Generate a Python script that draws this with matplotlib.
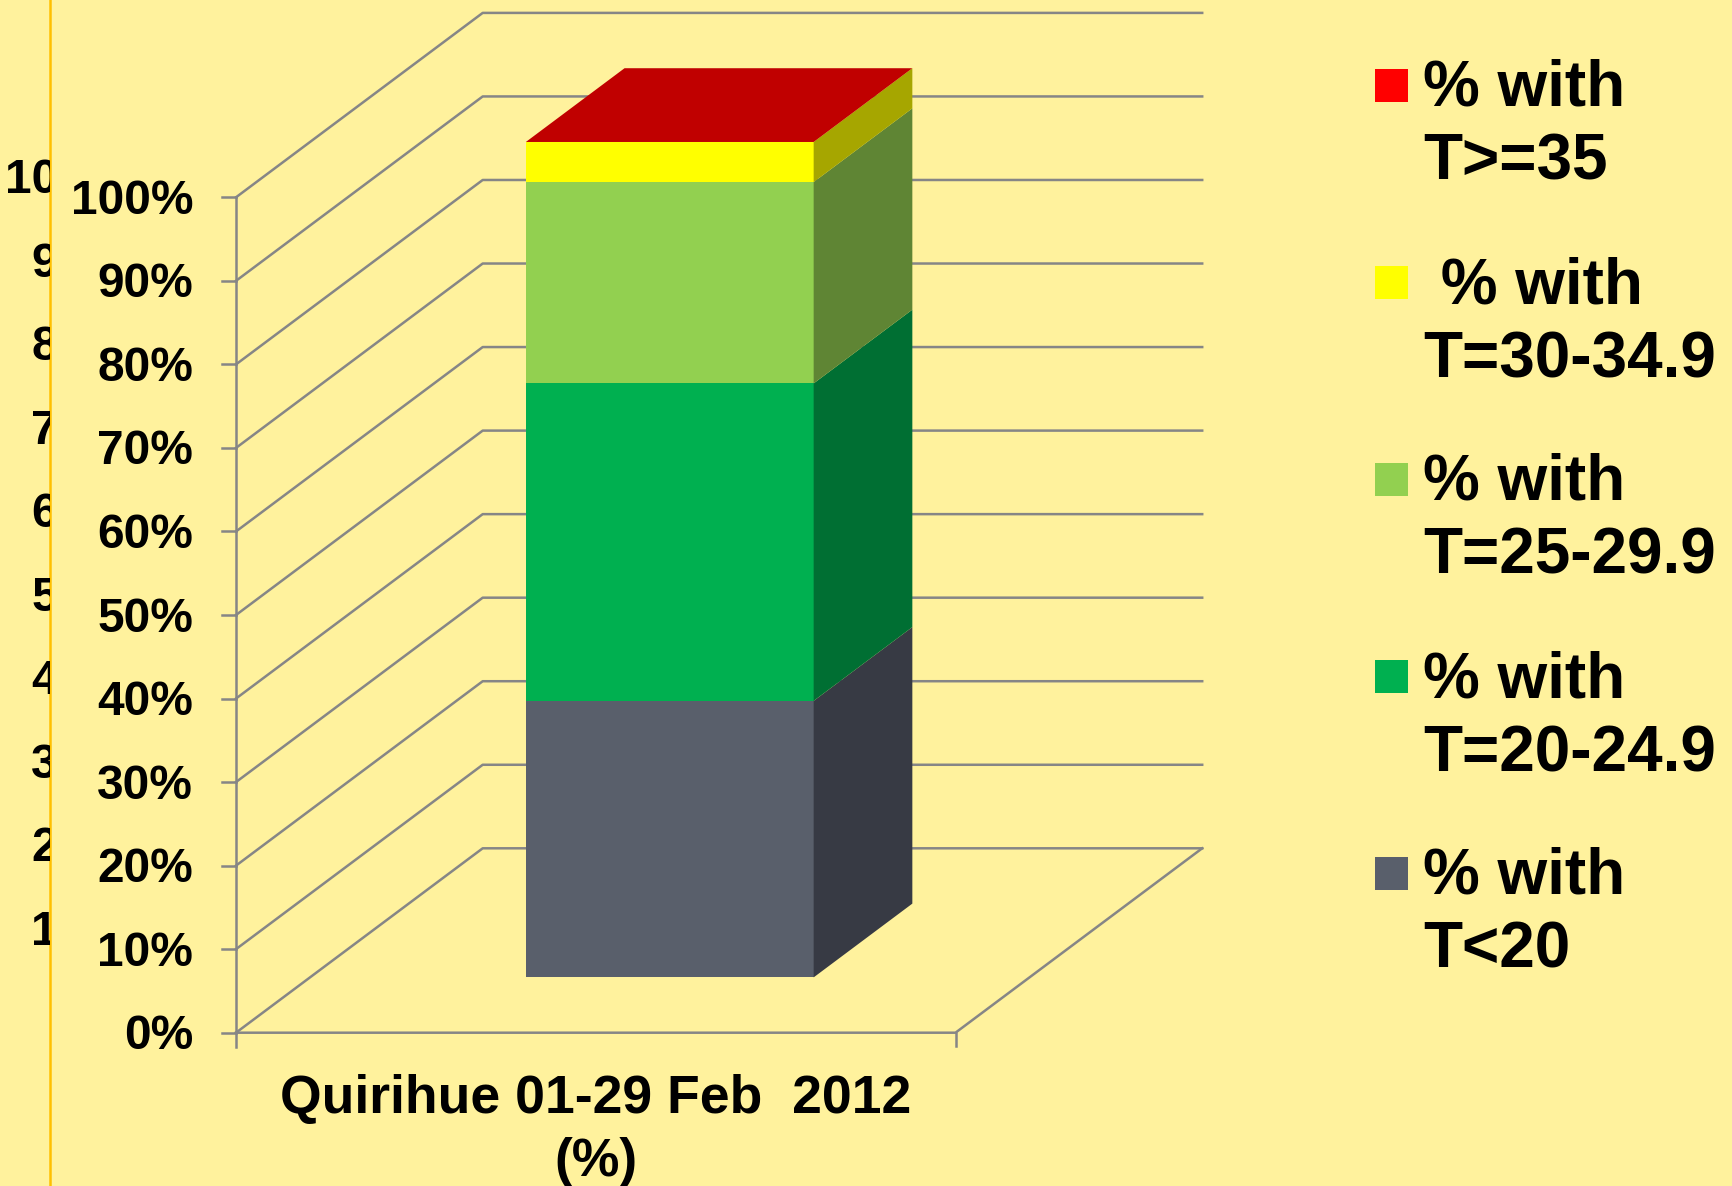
import matplotlib
matplotlib.use("Agg")
import matplotlib.pyplot as plt
from matplotlib.patches import Polygon, Rectangle

# data
categories = ["Quirihue 01-29 Feb  2012", "(%)"]
series_labels = [["% with", "T<20"], ["% with", "T=20-24.9"], ["% with", "T=25-29.9"],
                 [" % with", "T=30-34.9"], ["% with", "T>=35"]]
values = [33.1, 38.0, 24.1, 4.8, 0.0]
tick_values = [0, 10, 20, 30, 40, 50, 60, 70, 80, 90, 100]

front_colors = ["#595f6b", "#00b050", "#92d050", "#ffff00", "#ff0000"]
side_colors = ["#373a44", "#006f33", "#5f8534", "#a6a600", "#a60000"]
top_colors = ["#6d7380", "#00c060", "#a0dc60", "#ffff40", "#c00000"]

BG = "#fff29d"
GRID = "#868686"

# pseudo 3d layout (pixels)
ORIGIN = (236.0, 1032.7)
U_PX = 719.5
V_PX = 8.354
DEPTH = (246.7, -184.4)


def proj(u, v, w):
    return (ORIGIN[0] + u * U_PX + w * DEPTH[0], ORIGIN[1] - v * V_PX + w * DEPTH[1])


fig = plt.figure(figsize=(17.32, 11.86), dpi=100, facecolor=BG)
ax = fig.add_axes([0, 0, 1, 1])
ax.set_xlim(0, 1732)
ax.set_ylim(1186, 0)
ax.axis("off")
ax.set_facecolor(BG)

lw = 1.8
# walls
for v in tick_values:
    pts = [proj(0, v, 0), proj(0, v, 1), proj(1, v, 1)]
    ax.plot([p[0] for p in pts], [p[1] for p in pts], color=GRID, lw=lw, zorder=1)
floor = [proj(0, 0, 0), proj(1, 0, 0), proj(1, 0, 1)]
ax.plot([p[0] for p in floor], [p[1] for p in floor], color=GRID, lw=lw, zorder=1)
# value axis
a0, a1 = proj(0, 0, 0), proj(0, 100, 0)
ax.plot([a0[0], a1[0]], [a0[1] + 14, a1[1]], color=GRID, lw=lw, zorder=1)
for v in tick_values:
    x, y = proj(0, v, 0)
    ax.plot([x - 14, x], [y, y], color=GRID, lw=lw, zorder=1)
    ax.text(193, y + 16.5, f"{v}%", ha="right", va="baseline", fontsize=34.5,
            fontweight="bold", family="Liberation Sans", color="black")
# category axis ticks
x, y = proj(1, 0, 0)
ax.plot([x, x], [y, y + 13], color=GRID, lw=lw, zorder=1)

# labels of the chart hidden on the left, cut at the orange line
axl = fig.add_axes([0, 0, 50 / 1732, 1])
axl.set_xlim(0, 50)
axl.set_ylim(1186, 0)
axl.axis("off")
for v in tick_values[1:]:
    y = 1028.5 - v * V_PX
    x0 = 4.6 if v == 100 else 31.2
    axl.text(x0, y, f"{v}%"[:2], ha="left", va="baseline", fontsize=34.5,
             fontweight="bold", family="Liberation Sans", color="black", clip_on=True)
ax.plot([50, 50], [0, 1186], color="#ffc000", lw=1.8)

# stacked bar
u0, u1, w0, w1 = 0.3, 0.7, 0.3, 0.7
base = 0.0
for i, val in enumerate(values):
    top = base + val
    front = [proj(u0, base, w0), proj(u1, base, w0), proj(u1, top, w0), proj(u0, top, w0)]
    side = [proj(u1, base, w0), proj(u1, base, w1), proj(u1, top, w1), proj(u1, top, w0)]
    ax.add_patch(Polygon(front, closed=True, facecolor=front_colors[i], edgecolor="none", zorder=3))
    ax.add_patch(Polygon(side, closed=True, facecolor=side_colors[i], edgecolor="none", zorder=3))
    base = top
cap = [proj(u0, base, w0), proj(u1, base, w0), proj(u1, base, w1), proj(u0, base, w1)]
ax.add_patch(Polygon(cap, closed=True, facecolor=top_colors[-1], edgecolor="none", zorder=4))

# category label
cx, cy = proj(0.5, 0, 0)
ax.text(cx, 1113, categories[0], ha="center", va="baseline", fontsize=38.5,
        fontweight="bold", family="Liberation Sans")
ax.text(cx, 1176, categories[1], ha="center", va="baseline", fontsize=38.5,
        fontweight="bold", family="Liberation Sans")

# legend (top entry = last series)
for k, i in enumerate(reversed(range(len(values)))):
    yc = 85.3 + 197 * k
    ax.add_patch(Rectangle((1375, yc - 16.5), 33, 33, facecolor=front_colors[i],
                           edgecolor="none"))
    ax.text(1423, yc + 20.7, series_labels[i][0], ha="left", va="baseline", fontsize=46,
            fontweight="bold", family="Liberation Sans")
    ax.text(1423, yc + 94.7, series_labels[i][1], ha="left", va="baseline", fontsize=46,
            fontweight="bold", family="Liberation Sans")

fig.savefig("out.png", dpi=100, facecolor=BG)
